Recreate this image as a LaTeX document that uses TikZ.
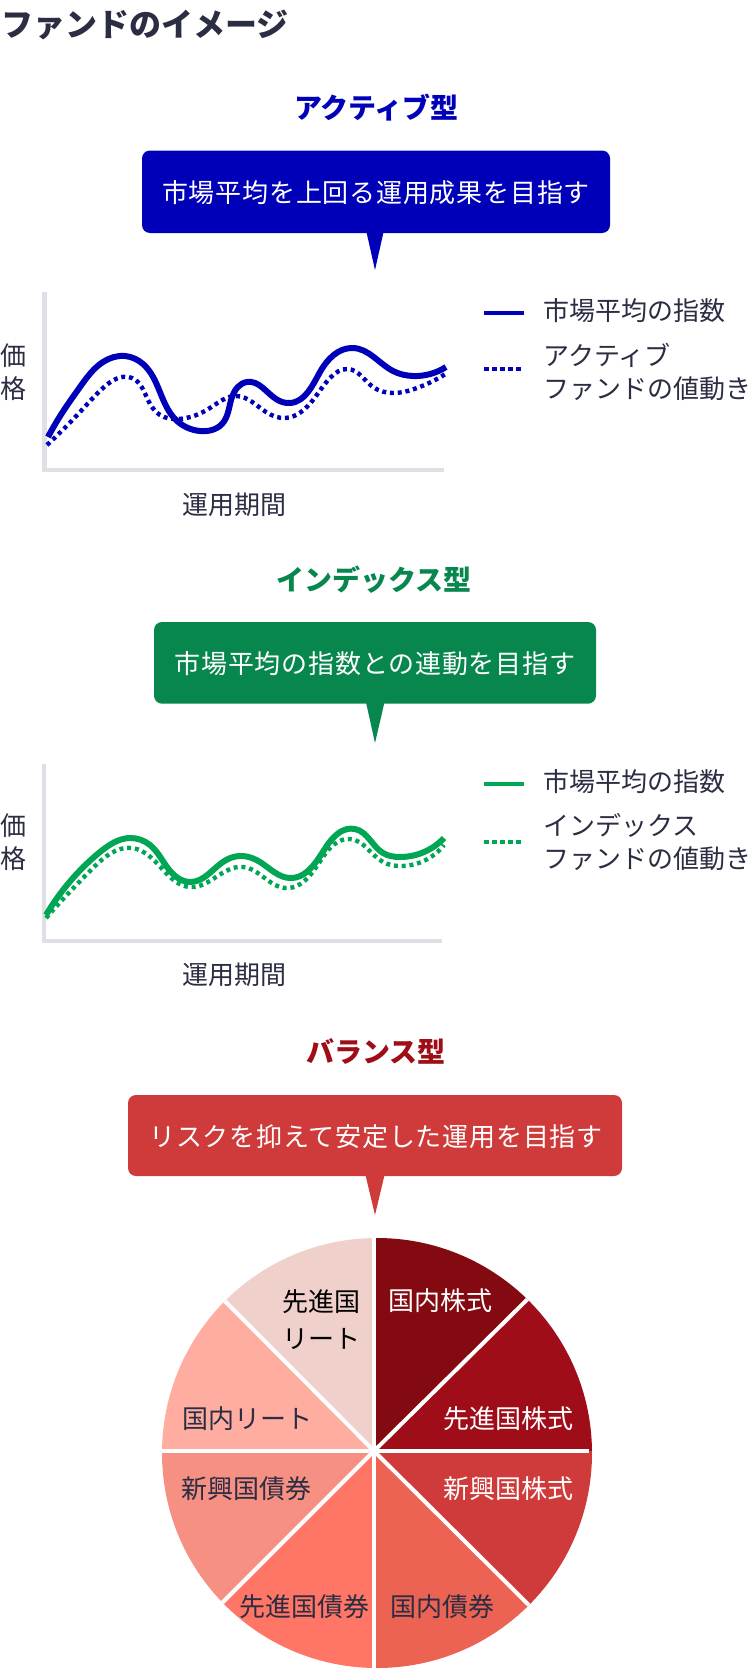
\documentclass[tikz,border=0pt]{standalone}
\usepackage{fontspec}
\usetikzlibrary{hobby}
\newfontfamily\cjk{Noto Sans CJK JP}
\newfontfamily\cjkbox[LetterSpace=3]{Noto Sans CJK JP}

\definecolor{ink}{HTML}{2B2D42}
\definecolor{axisgray}{HTML}{DFDFE6}
\definecolor{activeblue}{HTML}{0000B9}
\definecolor{indexgreen}{HTML}{07874E}
\definecolor{indexline}{HTML}{00A653}
\definecolor{balancedark}{HTML}{9E0D18}
\definecolor{balancered}{HTML}{CF3A3A}
\definecolor{pieA}{HTML}{820A10}
\definecolor{pieC}{HTML}{EC6354}
\definecolor{pieD}{HTML}{FF7566}
\definecolor{pieE}{HTML}{F69082}
\definecolor{pieF}{HTML}{FFADA1}
\definecolor{pieG}{HTML}{F0D0CB}

\tikzset{
	label26/.style={font=\cjk\fontsize{26}{33}\selectfont, text=ink, inner sep=0pt},
	heading/.style={font=\cjk\bfseries\fontsize{28}{28}\selectfont, inner sep=0pt},
	callout/.style={font=\cjkbox\fontsize{26}{26}\selectfont, text=white, inner sep=0pt},
	axisline/.style={axisgray, line width=4.5pt},
	solidcurve/.style={use Hobby shortcut, line width=6pt},
	dotcurve/.style={use Hobby shortcut, line width=4.4pt, dash pattern=on 4pt off 3.8pt},
	spoke/.style={white, line width=4pt}
}

\begin{document}
\begin{tikzpicture}[x=1pt,y=-1pt]

	\useasboundingbox (0,0) rectangle (750,1670);

	% page title
	\node[font=\cjk\bfseries\fontsize{32}{32}\selectfont, text=ink, inner sep=0pt, anchor=west] (pagetitle) at (1,24.5) {ファンドのイメージ};

	% active
	\node[heading, text=activeblue] (activetitle) at (376.5,108) {アクティブ型};
	\fill[activeblue] (366,230) -- (384,230) -- (375,270) -- cycle;
	\fill[activeblue, rounded corners=8pt] (142,150.5) rectangle (610,233);
	\node[callout] (activebox) at (376,192.5) {市場平均を上回る運用成果を目指す};

	\draw[axisline] (44.5,292) -- (44.5,470) -- (444,470);
	\draw[activeblue, solidcurve] (48,437) .. (64,410) .. (80,387) .. (103,362) .. (125,356) .. (143,364) .. (176,420) .. (200,431) .. (222,424) .. (232,397) .. (247,382) .. (276,399) .. (290,403) .. (320,372) .. (353,348) .. (393,371) .. (413,376) .. (446,367);
	\draw[activeblue, dotcurve] (47,445) .. (80,412) .. (103,388) .. (132,378) .. (148,400) .. (160,415) .. (178,419) .. (210,408) .. (236,396) .. (266,412) .. (285,418) .. (313,400) .. (330,378) .. (348,369) .. (373,387) .. (393,393) .. (417,388) .. (447,373);

	\node[label26, align=center] (activeprice) at (13,372) {価\\格};
	\node[label26] (activespan) at (234,504.5) {運用期間};
	\draw[activeblue, line width=4pt] (484,313) -- (524,313);
	\draw[activeblue, line width=4pt, dash pattern=on 4.5pt off 3.5pt] (484,369) -- (524,369);
	\node[label26, anchor=west] (activelegendA) at (543.5,310.5) {市場平均の指数};
	\node[label26, anchor=west, align=left] (activelegendB) at (543.5,371.5) {アクティブ\\ファンドの値動き};

	% index
	\node[heading, text=indexgreen] (indextitle) at (374,579.5) {インデックス型};
	\fill[indexgreen] (365.5,700) -- (385,700) -- (375,743) -- cycle;
	\fill[indexgreen, rounded corners=8pt] (154,622) rectangle (596,703.7);
	\node[callout] (indexbox) at (375,664) {市場平均の指数との連動を目指す};

	\draw[axisline] (44,764) -- (44,941) -- (442,941);
	\draw[indexline, solidcurve] (46,915) .. (73,878) .. (100,852) .. (130,838) .. (150,845) .. (167,867) .. (190,882) .. (226,860) .. (243,856) .. (260,862) .. (290,878) .. (326,847) .. (355,829) .. (383,853) .. (400,857) .. (444,838);
	\draw[indexline, dotcurve] (46,918) .. (93,868) .. (132,848) .. (166,873) .. (190,887) .. (243,867) .. (286,888) .. (323,857) .. (350,839) .. (383,862) .. (400,866) .. (444,845);

	\node[label26, align=center] (indexprice) at (13,842.5) {価\\格};
	\node[label26] (indexspan) at (234,974.5) {運用期間};
	\draw[indexline, line width=4pt] (484,784) -- (524,784);
	\draw[indexline, line width=4pt, dash pattern=on 4.5pt off 3.5pt] (484,842) -- (524,842);
	\node[label26, anchor=west] (indexlegendA) at (543.5,782) {市場平均の指数};
	\node[label26, anchor=west, align=left] (indexlegendB) at (543.5,842.5) {インデックス\\ファンドの値動き};

	% balance
	\node[heading, text=balancedark] (balancetitle) at (376,1051.5) {バランス型};
	\fill[balancered] (365,1173) -- (385,1173) -- (375,1215) -- cycle;
	\fill[balancered, rounded corners=8pt] (128,1095) rectangle (622,1176);
	\node[callout] (balancebox) at (376,1136.5) {リスクを抑えて安定した運用を目指す};

	% pie
	\coordinate (piehub) at (374,1451);
	\begin{scope}
		\clip (377,1453) circle[radius=215pt];
		\fill[pieA] (piehub) -- (374,1230) -- (556,1230) -- (556,1271) -- cycle;
		\fill[balancedark] (piehub) -- (556,1271) -- (600,1271) -- (600,1451) -- cycle;
		\fill[balancered] (piehub) -- (600,1451) -- (600,1633) -- (557,1633) -- cycle;
		\fill[pieC] (piehub) -- (557,1633) -- (557,1680) -- (374,1680) -- cycle;
		\fill[pieD] (piehub) -- (374,1680) -- (193,1680) -- (193,1632) -- cycle;
		\fill[pieE] (piehub) -- (193,1632) -- (150,1632) -- (150,1451) -- cycle;
		\fill[pieF] (piehub) -- (150,1451) -- (150,1271) -- (195,1271) -- cycle;
		\fill[pieG] (piehub) -- (195,1271) -- (195,1230) -- (374,1230) -- cycle;
		\draw[spoke] (374,1230) -- (374,1680);
		\draw[spoke] (150,1451) -- (589,1451);
		\draw[spoke] (piehub) -- (556,1271);
		\draw[spoke] (piehub) -- (557,1633);
		\draw[spoke] (piehub) -- (193,1632);
		\draw[spoke] (piehub) -- (195,1271);
	\end{scope}

	\node[label26, text=white, anchor=west] (domesticstock) at (388.5,1300.5) {国内株式};
	\node[label26, text=white, anchor=east] (foreignstock) at (574,1419) {先進国株式};
	\node[label26, text=white, anchor=east] (emergingstock) at (574,1488.5) {新興国株式};
	\node[label26] (domesticbond) at (442,1607) {国内債券};
	\node[label26, anchor=east] (foreignbond) at (369.5,1607) {先進国債券};
	\node[label26, anchor=west] (emergingbond) at (181.5,1488.5) {新興国債券};
	\node[label26, anchor=west] (domesticreit) at (182,1418.5) {国内リート};
	\node[font=\cjk\fontsize{26}{37.5}\selectfont, text=black, inner sep=0pt, anchor=east, align=right] (foreignreit) at (361,1319.5) {先進国\\リート};

\end{tikzpicture}
\end{document}
